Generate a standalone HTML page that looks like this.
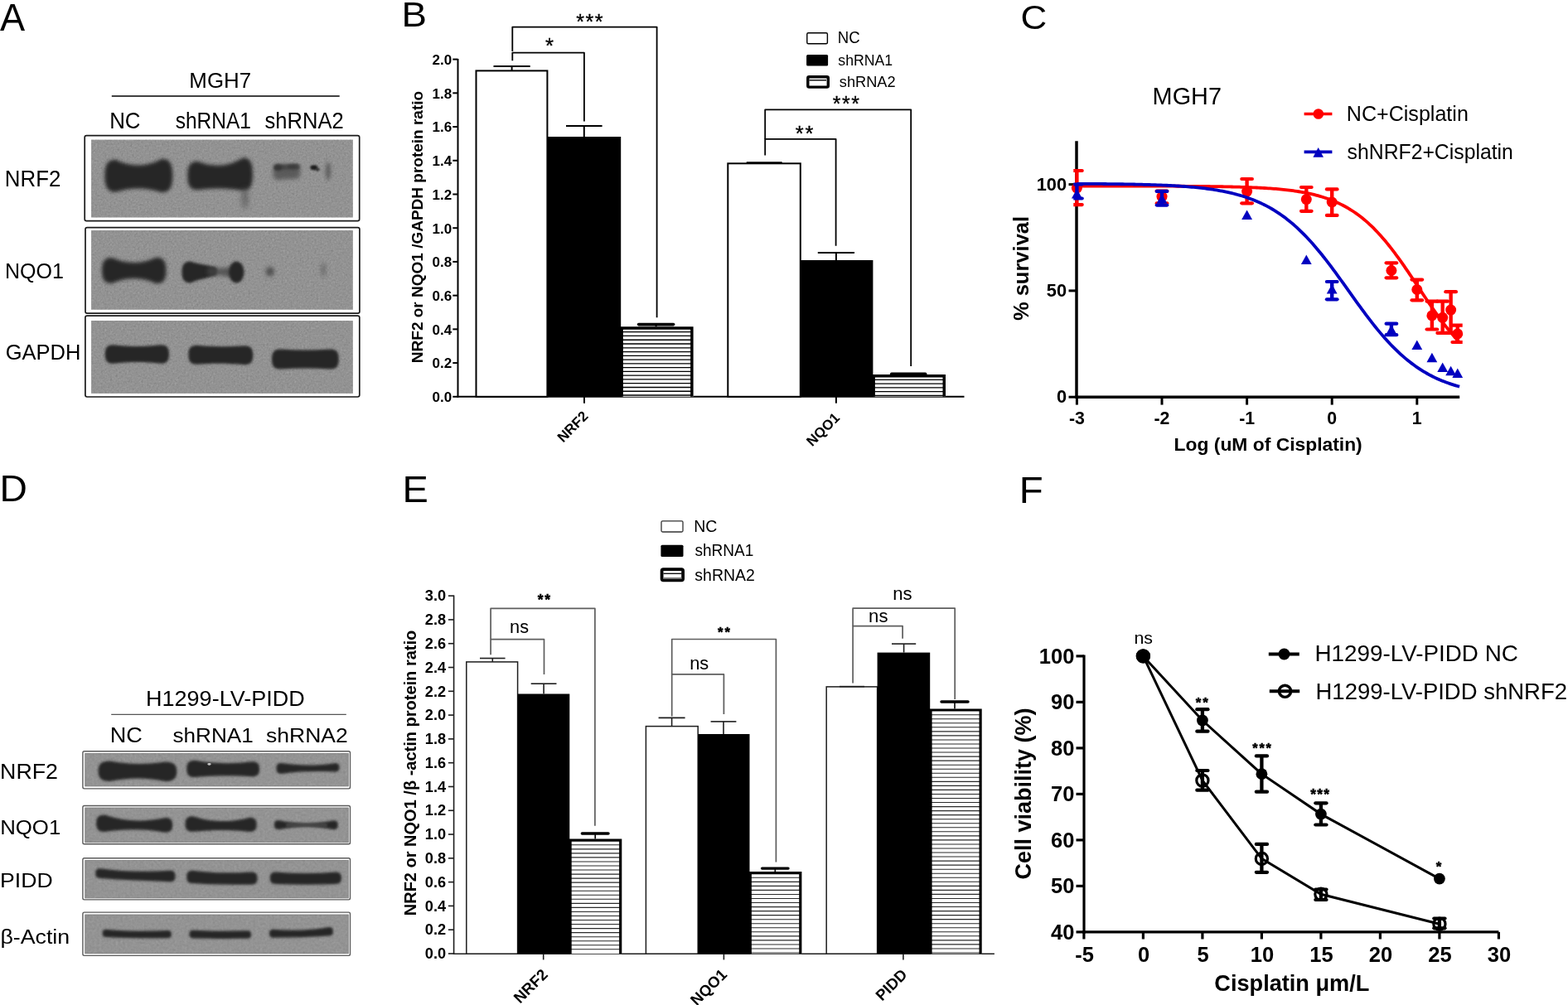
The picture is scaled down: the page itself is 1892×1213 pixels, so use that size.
<!DOCTYPE html>
<html><head><meta charset="utf-8"><title>Figure</title>
<style>html,body{margin:0;padding:0;background:#fff;}svg{display:block;}</style></head>
<body><svg width="1892" height="1213" viewBox="0 0 1892 1213" font-family="'Liberation Sans', Arial, sans-serif">
<defs><filter id="b5" x="-100%" y="-100%" width="300%" height="300%"><feGaussianBlur stdDeviation="0.5"/></filter><filter id="b10" x="-100%" y="-100%" width="300%" height="300%"><feGaussianBlur stdDeviation="1.0"/></filter><filter id="b11" x="-100%" y="-100%" width="300%" height="300%"><feGaussianBlur stdDeviation="1.1"/></filter><filter id="b12" x="-100%" y="-100%" width="300%" height="300%"><feGaussianBlur stdDeviation="1.2"/></filter><filter id="b15" x="-100%" y="-100%" width="300%" height="300%"><feGaussianBlur stdDeviation="1.5"/></filter><filter id="b16" x="-100%" y="-100%" width="300%" height="300%"><feGaussianBlur stdDeviation="1.6"/></filter><filter id="b18" x="-100%" y="-100%" width="300%" height="300%"><feGaussianBlur stdDeviation="1.8"/></filter><filter id="b20" x="-100%" y="-100%" width="300%" height="300%"><feGaussianBlur stdDeviation="2.0"/></filter><filter id="b24" x="-100%" y="-100%" width="300%" height="300%"><feGaussianBlur stdDeviation="2.4"/></filter><filter id="b26" x="-100%" y="-100%" width="300%" height="300%"><feGaussianBlur stdDeviation="2.6"/></filter><filter id="b28" x="-100%" y="-100%" width="300%" height="300%"><feGaussianBlur stdDeviation="2.8"/></filter><filter id="b30" x="-100%" y="-100%" width="300%" height="300%"><feGaussianBlur stdDeviation="3.0"/></filter><filter id="nz" x="0" y="0" width="100%" height="100%" filterUnits="objectBoundingBox" color-interpolation-filters="sRGB"><feTurbulence type="fractalNoise" baseFrequency="0.45" numOctaves="2" seed="7" result="t"/><feColorMatrix in="t" type="matrix" values="0.33 0.33 0.33 0 0  0.33 0.33 0.33 0 0  0.33 0.33 0.33 0 0  0 0 0 0 0.25"/></filter><filter id="nz2" x="0" y="0" width="100%" height="100%" filterUnits="objectBoundingBox" color-interpolation-filters="sRGB"><feTurbulence type="fractalNoise" baseFrequency="0.35" numOctaves="2" seed="11" result="t"/><feColorMatrix in="t" type="matrix" values="0.33 0.33 0.33 0 0  0.33 0.33 0.33 0 0  0.33 0.33 0.33 0 0  0 0 0 0 0.15"/></filter></defs>
<rect width="1892" height="1213" fill="#fff"/>
<text x="0.09" y="36.70" font-size="45.82" textLength="30.10" lengthAdjust="spacingAndGlyphs" fill="#000">A</text>
<text x="228.36" y="105.70" font-size="26.52" textLength="74.77" lengthAdjust="spacingAndGlyphs" fill="#000">MGH7</text>
<line x1="134.80" y1="116.00" x2="409.70" y2="116.00" stroke="#000" stroke-width="1.6" stroke-linecap="butt"/>
<text x="132.17" y="154.70" font-size="27.96" textLength="37.35" lengthAdjust="spacingAndGlyphs" fill="#000">NC</text>
<text x="211.63" y="154.70" font-size="26.90" textLength="91.27" lengthAdjust="spacingAndGlyphs" fill="#000">shRNA1</text>
<text x="319.60" y="154.70" font-size="26.90" textLength="95.01" lengthAdjust="spacingAndGlyphs" fill="#000">shRNA2</text>
<text x="5.87" y="225.00" font-size="27.24" textLength="67.46" lengthAdjust="spacingAndGlyphs" fill="#000">NRF2</text>
<text x="5.94" y="336.30" font-size="26.67" textLength="70.89" lengthAdjust="spacingAndGlyphs" fill="#000">NQO1</text>
<text x="6.73" y="434.40" font-size="26.38" textLength="90.64" lengthAdjust="spacingAndGlyphs" fill="#000">GAPDH</text>
<rect x="102.20" y="163.60" width="331.50" height="103.10" fill="#fff" stroke="#1a1a1a" stroke-width="1.7" rx="2.2"/>
<rect x="110.10" y="168.80" width="315.70" height="93.50" fill="#999999" stroke="none" stroke-width="1" rx="0"/>
<rect x="110.10" y="168.80" width="315.70" height="93.50" fill="#000" stroke="none" stroke-width="1" rx="0" filter="url(#nz)"/>
<rect x="103.00" y="274.60" width="330.90" height="103.50" fill="#fff" stroke="#1a1a1a" stroke-width="1.7" rx="2.2"/>
<rect x="110.10" y="278.00" width="315.70" height="95.70" fill="#999999" stroke="none" stroke-width="1" rx="0"/>
<rect x="110.10" y="278.00" width="315.70" height="95.70" fill="#000" stroke="none" stroke-width="1" rx="0" filter="url(#nz)"/>
<rect x="102.90" y="381.10" width="330.90" height="97.90" fill="#fff" stroke="#1a1a1a" stroke-width="1.7" rx="2.2"/>
<rect x="110.10" y="387.00" width="315.70" height="87.90" fill="#999999" stroke="none" stroke-width="1" rx="0"/>
<rect x="110.10" y="387.00" width="315.70" height="87.90" fill="#000" stroke="none" stroke-width="1" rx="0" filter="url(#nz)"/>
<path d="M139.40,192.80 C158.03,201.90 176.67,201.90 195.30,191.80 C204.66,191.80 208.30,197.46 208.30,212.00 C208.30,226.54 204.66,232.20 195.30,232.20 C176.67,226.00 158.03,226.00 139.40,231.80 C130.04,231.80 126.40,226.34 126.40,212.30 C126.40,198.26 130.04,192.80 139.40,192.80 Z" fill="#262626" opacity="1" filter="url(#b20)"/>
<path d="M238.30,194.70 C256.53,201.93 274.77,201.93 293.00,190.50 C301.64,190.50 305.00,196.04 305.00,210.30 C305.00,224.56 301.64,230.10 293.00,230.10 C274.77,226.63 256.53,226.63 238.30,229.30 C229.66,229.30 226.30,224.46 226.30,212.00 C226.30,199.54 229.66,194.70 238.30,194.70 Z" fill="#262626" opacity="1" filter="url(#b20)"/>
<ellipse cx="295.50" cy="239.00" rx="3.80" ry="13.00" fill="#444" opacity="0.6" filter="url(#b30)"/>
<path d="M335.60,199.20 C342.50,199.28 349.40,199.28 356.30,198.70 C360.62,198.70 362.30,201.08 362.30,207.20 C362.30,213.32 360.62,215.70 356.30,215.70 C349.40,216.12 342.50,216.12 335.60,217.20 C331.28,217.20 329.60,214.68 329.60,208.20 C329.60,201.72 331.28,199.20 335.60,199.20 Z" fill="#4e4e4e" opacity="0.8" filter="url(#b26)"/>
<path d="M334.10,198.20 C342.27,198.40 350.43,198.40 358.60,197.80 C361.05,197.80 362.00,198.75 362.00,201.20 C362.00,203.65 361.05,204.60 358.60,204.60 C350.43,204.60 342.27,204.60 334.10,205.40 C331.51,205.40 330.50,204.39 330.50,201.80 C330.50,199.21 331.51,198.20 334.10,198.20 Z" fill="#3c3c3c" opacity="0.75" filter="url(#b18)"/>
<ellipse cx="335.50" cy="202.20" rx="5.00" ry="3.80" fill="#2c2c2c" opacity="0.6" filter="url(#b16)"/>
<ellipse cx="353.00" cy="201.00" rx="6.00" ry="3.00" fill="#333" opacity="0.5" filter="url(#b16)"/>
<ellipse cx="378.80" cy="202.30" rx="4.40" ry="3.00" fill="#1c1c1c" opacity="1" filter="url(#b11)"/>
<ellipse cx="383.20" cy="204.60" rx="2.60" ry="2.00" fill="#2a2a2a" opacity="0.9" filter="url(#b10)"/>
<ellipse cx="396.00" cy="206.50" rx="3.20" ry="11.00" fill="#4a4a4a" opacity="0.7" filter="url(#b20)"/>
<path d="M135.00,311.00 C152.83,319.05 170.67,319.05 188.50,310.70 C197.14,310.70 200.50,315.12 200.50,326.50 C200.50,337.88 197.14,342.30 188.50,342.30 C170.67,333.95 152.83,333.95 135.00,342.00 C126.36,342.00 123.00,337.66 123.00,326.50 C123.00,315.34 126.36,311.00 135.00,311.00 Z" fill="#262626" opacity="1" filter="url(#b20)"/>
<path d="M230.12,315.50 C238.92,319.08 247.71,319.08 256.50,322.00 C260.46,322.00 262.00,323.54 262.00,327.50 C262.00,331.46 260.46,333.00 256.50,333.00 C247.71,336.92 238.92,336.92 230.12,341.50 C222.47,341.50 219.50,337.86 219.50,328.50 C219.50,319.14 222.47,315.50 230.12,315.50 Z" fill="#262626" opacity="1" filter="url(#b18)"/>
<path d="M255.50,322.00 C262.33,324.32 269.17,324.32 276.00,322.50 C280.32,322.50 282.00,324.18 282.00,328.50 C282.00,332.82 280.32,334.50 276.00,334.50 C269.17,331.68 262.33,331.68 255.50,333.00 C251.54,333.00 250.00,331.46 250.00,327.50 C250.00,323.54 251.54,322.00 255.50,322.00 Z" fill="#444" opacity="0.8" filter="url(#b28)"/>
<ellipse cx="285.30" cy="328.50" rx="9.30" ry="13.00" fill="#262626" opacity="1" filter="url(#b18)"/>
<ellipse cx="325.80" cy="327.80" rx="5.20" ry="5.80" fill="#3a3a3a" opacity="0.75" filter="url(#b26)"/>
<ellipse cx="390.20" cy="325.50" rx="3.20" ry="9.00" fill="#555" opacity="0.55" filter="url(#b24)"/>
<path d="M136.70,416.20 C155.80,418.60 174.90,418.60 194.00,416.20 C201.20,416.20 204.00,419.36 204.00,427.50 C204.00,435.64 201.20,438.80 194.00,438.80 C174.90,436.40 155.80,436.40 136.70,438.80 C129.50,438.80 126.70,435.64 126.70,427.50 C126.70,419.36 129.50,416.20 136.70,416.20 Z" fill="#262626" opacity="1" filter="url(#b18)"/>
<path d="M237.40,416.70 C256.70,418.68 276.00,418.68 295.30,417.20 C302.50,417.20 305.30,420.42 305.30,428.70 C305.30,436.98 302.50,440.20 295.30,440.20 C276.00,438.22 256.70,438.22 237.40,439.70 C230.20,439.70 227.40,436.48 227.40,428.20 C227.40,419.92 230.20,416.70 237.40,416.70 Z" fill="#262626" opacity="1" filter="url(#b18)"/>
<path d="M338.00,421.50 C358.27,422.83 378.53,422.83 398.80,421.50 C406.00,421.50 408.80,424.86 408.80,433.50 C408.80,442.14 406.00,445.50 398.80,445.50 C378.53,444.17 358.27,444.17 338.00,445.50 C330.80,445.50 328.00,442.14 328.00,433.50 C328.00,424.86 330.80,421.50 338.00,421.50 Z" fill="#262626" opacity="1" filter="url(#b18)"/>
<text x="484.64" y="31.90" font-size="42.47" textLength="30.44" lengthAdjust="spacingAndGlyphs" fill="#000">B</text>
<line x1="552.50" y1="71.00" x2="552.50" y2="479.80" stroke="#000" stroke-width="2" stroke-linecap="butt"/>
<line x1="546.30" y1="478.80" x2="552.50" y2="478.80" stroke="#000" stroke-width="2" stroke-linecap="butt"/>
<text x="545.20" y="485.10" font-size="17" font-weight="bold" text-anchor="end" fill="#000">0.0</text>
<line x1="546.30" y1="438.08" x2="552.50" y2="438.08" stroke="#000" stroke-width="2" stroke-linecap="butt"/>
<text x="545.20" y="444.38" font-size="17" font-weight="bold" text-anchor="end" fill="#000">0.2</text>
<line x1="546.30" y1="397.36" x2="552.50" y2="397.36" stroke="#000" stroke-width="2" stroke-linecap="butt"/>
<text x="545.20" y="403.66" font-size="17" font-weight="bold" text-anchor="end" fill="#000">0.4</text>
<line x1="546.30" y1="356.64" x2="552.50" y2="356.64" stroke="#000" stroke-width="2" stroke-linecap="butt"/>
<text x="545.20" y="362.94" font-size="17" font-weight="bold" text-anchor="end" fill="#000">0.6</text>
<line x1="546.30" y1="315.92" x2="552.50" y2="315.92" stroke="#000" stroke-width="2" stroke-linecap="butt"/>
<text x="545.20" y="322.22" font-size="17" font-weight="bold" text-anchor="end" fill="#000">0.8</text>
<line x1="546.30" y1="275.20" x2="552.50" y2="275.20" stroke="#000" stroke-width="2" stroke-linecap="butt"/>
<text x="545.20" y="281.50" font-size="17" font-weight="bold" text-anchor="end" fill="#000">1.0</text>
<line x1="546.30" y1="234.48" x2="552.50" y2="234.48" stroke="#000" stroke-width="2" stroke-linecap="butt"/>
<text x="545.20" y="240.78" font-size="17" font-weight="bold" text-anchor="end" fill="#000">1.2</text>
<line x1="546.30" y1="193.76" x2="552.50" y2="193.76" stroke="#000" stroke-width="2" stroke-linecap="butt"/>
<text x="545.20" y="200.06" font-size="17" font-weight="bold" text-anchor="end" fill="#000">1.4</text>
<line x1="546.30" y1="153.04" x2="552.50" y2="153.04" stroke="#000" stroke-width="2" stroke-linecap="butt"/>
<text x="545.20" y="159.34" font-size="17" font-weight="bold" text-anchor="end" fill="#000">1.6</text>
<line x1="546.30" y1="112.32" x2="552.50" y2="112.32" stroke="#000" stroke-width="2" stroke-linecap="butt"/>
<text x="545.20" y="118.62" font-size="17" font-weight="bold" text-anchor="end" fill="#000">1.8</text>
<line x1="546.30" y1="71.60" x2="552.50" y2="71.60" stroke="#000" stroke-width="2" stroke-linecap="butt"/>
<text x="545.20" y="77.90" font-size="17" font-weight="bold" text-anchor="end" fill="#000">2.0</text>
<line x1="551.50" y1="478.80" x2="1163.50" y2="478.80" stroke="#000" stroke-width="2" stroke-linecap="butt"/>
<line x1="705.00" y1="478.80" x2="705.00" y2="486.70" stroke="#000" stroke-width="2" stroke-linecap="butt"/>
<line x1="1008.90" y1="478.80" x2="1008.90" y2="486.70" stroke="#000" stroke-width="2" stroke-linecap="butt"/>
<text x="510.00" y="274.00" font-size="19" font-weight="bold" text-anchor="middle" transform="rotate(-90 510.00 274.00)" fill="#000">NRF2 or NQO1 /GAPDH protein ratio</text>
<text x="710.80" y="503.40" font-size="17" font-weight="bold" text-anchor="end" transform="rotate(-45 710.80 503.40)" fill="#000">NRF2</text>
<text x="1014.20" y="505.40" font-size="17" font-weight="bold" text-anchor="end" transform="rotate(-45 1014.20 505.40)" fill="#000">NQO1</text>
<rect x="574.50" y="85.40" width="85.90" height="393.40" fill="#fff" stroke="#000" stroke-width="2" rx="0"/>
<rect x="660.40" y="165.00" width="88.80" height="313.80" fill="#000" stroke="none" stroke-width="1" rx="0"/>
<rect x="750.15" y="394.30" width="86.45" height="84.50" fill="#fff" stroke="none" stroke-width="1" rx="0"/>
<path d="M750.40,400.70H834.60M750.40,405.47H834.60M750.40,410.24H834.60M750.40,415.01H834.60M750.40,419.78H834.60M750.40,424.55H834.60M750.40,429.32H834.60M750.40,434.09H834.60M750.40,438.86H834.60M750.40,443.63H834.60M750.40,448.40H834.60M750.40,453.17H834.60M750.40,457.94H834.60M750.40,462.71H834.60M750.40,467.48H834.60M750.40,472.25H834.60M750.40,477.02H834.60" stroke="#000" stroke-width="1.3" fill="none"/>
<path d="M750.15,478.8 V396.05 H834.85 V478.8" stroke="#000" stroke-width="3.5" fill="none" stroke-linejoin="miter"/>
<rect x="878.30" y="197.30" width="87.50" height="281.50" fill="#fff" stroke="#000" stroke-width="2" rx="0"/>
<rect x="965.80" y="314.00" width="87.60" height="164.80" fill="#000" stroke="none" stroke-width="1" rx="0"/>
<rect x="1054.15" y="452.00" width="86.85" height="26.80" fill="#fff" stroke="none" stroke-width="1" rx="0"/>
<path d="M1054.40,458.40H1139.00M1054.40,463.17H1139.00M1054.40,467.94H1139.00M1054.40,472.71H1139.00M1054.40,477.48H1139.00" stroke="#000" stroke-width="1.3" fill="none"/>
<path d="M1054.15,478.8 V453.75 H1139.25 V478.8" stroke="#000" stroke-width="3.5" fill="none" stroke-linejoin="miter"/>
<line x1="617.60" y1="80.00" x2="617.60" y2="85.40" stroke="#000" stroke-width="2" stroke-linecap="butt"/>
<line x1="595.50" y1="80.00" x2="639.70" y2="80.00" stroke="#000" stroke-width="2" stroke-linecap="butt"/>
<line x1="704.80" y1="152.00" x2="704.80" y2="165.00" stroke="#000" stroke-width="2" stroke-linecap="butt"/>
<line x1="683.00" y1="152.00" x2="726.60" y2="152.00" stroke="#000" stroke-width="2" stroke-linecap="butt"/>
<line x1="791.60" y1="391.60" x2="791.60" y2="394.30" stroke="#000" stroke-width="2" stroke-linecap="butt"/>
<line x1="770.60" y1="391.60" x2="812.60" y2="391.60" stroke="#000" stroke-width="3.6" stroke-linecap="round"/>
<line x1="922.20" y1="196.30" x2="922.20" y2="197.30" stroke="#000" stroke-width="2" stroke-linecap="butt"/>
<line x1="900.70" y1="196.30" x2="943.70" y2="196.30" stroke="#000" stroke-width="2" stroke-linecap="butt"/>
<line x1="1008.90" y1="305.00" x2="1008.90" y2="314.00" stroke="#000" stroke-width="2" stroke-linecap="butt"/>
<line x1="986.80" y1="305.00" x2="1031.00" y2="305.00" stroke="#000" stroke-width="2" stroke-linecap="butt"/>
<line x1="1096.20" y1="451.30" x2="1096.20" y2="452.50" stroke="#000" stroke-width="2" stroke-linecap="butt"/>
<line x1="1075.70" y1="451.30" x2="1116.70" y2="451.30" stroke="#000" stroke-width="3.4" stroke-linecap="round"/>
<path d="M618.3,73.2 V63.6 H704.9 V146.6" stroke="#000" stroke-width="1.8" fill="none" stroke-linejoin="round"/>
<path d="M618.3,62 V32.6 H792.6 V383.2" stroke="#000" stroke-width="1.8" fill="none" stroke-linejoin="round"/>
<path d="M923.2,187.6 V167.9 H1008.6 V296.7" stroke="#000" stroke-width="1.8" fill="none" stroke-linejoin="round"/>
<path d="M923.2,167.9 V132.3 H1099.2 V442" stroke="#000" stroke-width="1.8" fill="none" stroke-linejoin="round"/>
<text x="657.95" y="63.98" font-size="25.71" letter-spacing="0.00" stroke="#000" stroke-width="0.35">*</text>
<text x="695.36" y="34.59" font-size="25.14" letter-spacing="1.40" stroke="#000" stroke-width="0.35">***</text>
<text x="959.75" y="170.48" font-size="25.43" letter-spacing="1.78" stroke="#000" stroke-width="0.35">**</text>
<text x="1004.77" y="134.09" font-size="24.86" letter-spacing="1.51" stroke="#000" stroke-width="0.35">***</text>
<rect x="973.80" y="39.80" width="24.60" height="13.00" fill="#fff" stroke="#000" stroke-width="1.4" rx="1.5"/>
<rect x="973.10" y="65.90" width="26.00" height="13.60" fill="#000" stroke="none" stroke-width="1" rx="1.5"/>
<rect x="974.80" y="92.70" width="24.50" height="12.40" fill="#fff" stroke="#000" stroke-width="3.4" rx="1.5"/>
<line x1="976.50" y1="96.80" x2="997.00" y2="96.80" stroke="#000" stroke-width="1.4" stroke-linecap="butt"/>
<text x="1010.87" y="52.20" font-size="19.93" textLength="26.87" lengthAdjust="spacingAndGlyphs" fill="#000">NC</text>
<text x="1011.31" y="78.90" font-size="19.03" textLength="65.85" lengthAdjust="spacingAndGlyphs" fill="#000">shRNA1</text>
<text x="1012.80" y="104.80" font-size="18.62" textLength="67.83" lengthAdjust="spacingAndGlyphs" fill="#000">shRNA2</text>
<text x="1231.40" y="34.70" font-size="40.29" textLength="31.74" lengthAdjust="spacingAndGlyphs" fill="#000">C</text>
<text x="1390.62" y="126.20" font-size="28.96" textLength="83.37" lengthAdjust="spacingAndGlyphs" fill="#000">MGH7</text>
<line x1="1299.00" y1="170.30" x2="1299.00" y2="481.00" stroke="#000" stroke-width="3.5" stroke-linecap="butt"/>
<line x1="1297.30" y1="479.20" x2="1761.20" y2="479.20" stroke="#000" stroke-width="3.5" stroke-linecap="butt"/>
<line x1="1289.50" y1="479.20" x2="1299.00" y2="479.20" stroke="#000" stroke-width="3" stroke-linecap="butt"/>
<text x="1287.10" y="486.20" font-size="21.8" font-weight="bold" text-anchor="end" fill="#000">0</text>
<line x1="1289.50" y1="350.90" x2="1299.00" y2="350.90" stroke="#000" stroke-width="3" stroke-linecap="butt"/>
<text x="1287.10" y="357.90" font-size="21.8" font-weight="bold" text-anchor="end" fill="#000">50</text>
<line x1="1289.50" y1="222.60" x2="1299.00" y2="222.60" stroke="#000" stroke-width="3" stroke-linecap="butt"/>
<text x="1287.10" y="229.60" font-size="21.8" font-weight="bold" text-anchor="end" fill="#000">100</text>
<line x1="1299.40" y1="479.20" x2="1299.40" y2="488.60" stroke="#000" stroke-width="3" stroke-linecap="butt"/>
<text x="1299.40" y="512.20" font-size="21.3" font-weight="bold" text-anchor="middle" fill="#000">-3</text>
<line x1="1402.00" y1="479.20" x2="1402.00" y2="488.60" stroke="#000" stroke-width="3" stroke-linecap="butt"/>
<text x="1402.00" y="512.20" font-size="21.3" font-weight="bold" text-anchor="middle" fill="#000">-2</text>
<line x1="1504.60" y1="479.20" x2="1504.60" y2="488.60" stroke="#000" stroke-width="3" stroke-linecap="butt"/>
<text x="1504.60" y="512.20" font-size="21.3" font-weight="bold" text-anchor="middle" fill="#000">-1</text>
<line x1="1607.20" y1="479.20" x2="1607.20" y2="488.60" stroke="#000" stroke-width="3" stroke-linecap="butt"/>
<text x="1607.20" y="512.20" font-size="21.3" font-weight="bold" text-anchor="middle" fill="#000">0</text>
<line x1="1709.80" y1="479.20" x2="1709.80" y2="488.60" stroke="#000" stroke-width="3" stroke-linecap="butt"/>
<text x="1709.80" y="512.20" font-size="21.3" font-weight="bold" text-anchor="middle" fill="#000">1</text>
<text x="1241.00" y="324.00" font-size="25.5" font-weight="bold" text-anchor="middle" transform="rotate(-90 1241.00 324.00)" fill="#000">% survival</text>
<text x="1416.56" y="543.90" font-size="22.21" font-weight="bold" textLength="227.19" lengthAdjust="spacingAndGlyphs" fill="#000">Log (uM of Cisplatin)</text>
<clipPath id="cpC"><rect x="1295.3" y="150" width="469.4" height="340"/></clipPath>
<g clip-path="url(#cpC)">
<polyline points="1299.40,224.56 1301.71,224.56 1304.02,224.56 1306.33,224.56 1308.63,224.56 1310.94,224.56 1313.25,224.56 1315.56,224.56 1317.87,224.56 1320.18,224.57 1322.49,224.57 1324.79,224.57 1327.10,224.57 1329.41,224.57 1331.72,224.57 1334.03,224.57 1336.34,224.57 1338.64,224.57 1340.95,224.58 1343.26,224.58 1345.57,224.58 1347.88,224.58 1350.19,224.58 1352.50,224.58 1354.80,224.59 1357.11,224.59 1359.42,224.59 1361.73,224.59 1364.04,224.60 1366.35,224.60 1368.65,224.60 1370.96,224.60 1373.27,224.61 1375.58,224.61 1377.89,224.61 1380.20,224.62 1382.51,224.62 1384.81,224.63 1387.12,224.63 1389.43,224.63 1391.74,224.64 1394.05,224.65 1396.36,224.65 1398.67,224.66 1400.97,224.66 1403.28,224.67 1405.59,224.68 1407.90,224.68 1410.21,224.69 1412.52,224.70 1414.83,224.71 1417.13,224.72 1419.44,224.73 1421.75,224.74 1424.06,224.75 1426.37,224.76 1428.68,224.77 1430.98,224.79 1433.29,224.80 1435.60,224.82 1437.91,224.83 1440.22,224.85 1442.53,224.86 1444.84,224.88 1447.14,224.90 1449.45,224.92 1451.76,224.95 1454.07,224.97 1456.38,224.99 1458.69,225.02 1461.00,225.05 1463.30,225.08 1465.61,225.11 1467.92,225.14 1470.23,225.17 1472.54,225.21 1474.85,225.25 1477.15,225.29 1479.46,225.33 1481.77,225.38 1484.08,225.43 1486.39,225.48 1488.70,225.53 1491.01,225.59 1493.31,225.65 1495.62,225.72 1497.93,225.79 1500.24,225.86 1502.55,225.93 1504.86,226.02 1507.16,226.10 1509.47,226.19 1511.78,226.29 1514.09,226.39 1516.40,226.50 1518.71,226.61 1521.02,226.73 1523.32,226.86 1525.63,226.99 1527.94,227.13 1530.25,227.28 1532.56,227.44 1534.87,227.61 1537.18,227.79 1539.48,227.97 1541.79,228.17 1544.10,228.38 1546.41,228.60 1548.72,228.84 1551.03,229.09 1553.34,229.35 1555.64,229.62 1557.95,229.91 1560.26,230.22 1562.57,230.55 1564.88,230.89 1567.19,231.25 1569.49,231.64 1571.80,232.04 1574.11,232.47 1576.42,232.92 1578.73,233.39 1581.04,233.89 1583.35,234.42 1585.65,234.97 1587.96,235.56 1590.27,236.17 1592.58,236.82 1594.89,237.51 1597.20,238.22 1599.51,238.98 1601.81,239.78 1604.12,240.61 1606.43,241.49 1608.74,242.41 1611.05,243.38 1613.36,244.40 1615.66,245.47 1617.97,246.59 1620.28,247.76 1622.59,248.99 1624.90,250.27 1627.21,251.61 1629.52,253.02 1631.82,254.49 1634.13,256.02 1636.44,257.62 1638.75,259.29 1641.06,261.02 1643.37,262.83 1645.67,264.71 1647.98,266.66 1650.29,268.69 1652.60,270.79 1654.91,272.97 1657.22,275.22 1659.53,277.55 1661.83,279.96 1664.14,282.44 1666.45,285.00 1668.76,287.64 1671.07,290.34 1673.38,293.12 1675.69,295.97 1677.99,298.89 1680.30,301.87 1682.61,304.92 1684.92,308.02 1687.23,311.18 1689.54,314.40 1691.85,317.66 1694.15,320.96 1696.46,324.31 1698.77,327.69 1701.08,331.10 1703.39,334.53 1705.70,337.99 1708.00,341.45 1710.31,344.93 1712.62,348.40 1714.93,351.88 1717.24,355.34 1719.55,358.79 1721.86,362.22 1724.16,365.62 1726.47,368.99 1728.78,372.33 1731.09,375.63 1733.40,378.88 1735.71,382.08 1738.02,385.23 1740.32,388.32 1742.63,391.35 1744.94,394.32 1747.25,397.22 1749.56,400.05 1751.87,402.81 1754.17,405.50 1756.48,408.12 1758.79,410.66 1761.10,413.12" fill="none" stroke="#ff0000" stroke-width="3.8" stroke-linejoin="round"/>
<line x1="1299.40" y1="206.00" x2="1299.40" y2="247.10" stroke="#ff0000" stroke-width="4.4" stroke-linecap="butt"/>
<line x1="1293.10" y1="206.00" x2="1305.70" y2="206.00" stroke="#ff0000" stroke-width="4.2" stroke-linecap="round"/>
<line x1="1293.10" y1="247.10" x2="1305.70" y2="247.10" stroke="#ff0000" stroke-width="4.2" stroke-linecap="round"/>
<line x1="1402.00" y1="230.50" x2="1402.00" y2="245.30" stroke="#ff0000" stroke-width="4.4" stroke-linecap="butt"/>
<line x1="1395.70" y1="230.50" x2="1408.30" y2="230.50" stroke="#ff0000" stroke-width="4.2" stroke-linecap="round"/>
<line x1="1395.70" y1="245.30" x2="1408.30" y2="245.30" stroke="#ff0000" stroke-width="4.2" stroke-linecap="round"/>
<line x1="1504.60" y1="216.00" x2="1504.60" y2="245.30" stroke="#ff0000" stroke-width="4.4" stroke-linecap="butt"/>
<line x1="1498.30" y1="216.00" x2="1510.90" y2="216.00" stroke="#ff0000" stroke-width="4.2" stroke-linecap="round"/>
<line x1="1498.30" y1="245.30" x2="1510.90" y2="245.30" stroke="#ff0000" stroke-width="4.2" stroke-linecap="round"/>
<line x1="1576.31" y1="226.00" x2="1576.31" y2="254.80" stroke="#ff0000" stroke-width="4.4" stroke-linecap="butt"/>
<line x1="1570.01" y1="226.00" x2="1582.61" y2="226.00" stroke="#ff0000" stroke-width="4.2" stroke-linecap="round"/>
<line x1="1570.01" y1="254.80" x2="1582.61" y2="254.80" stroke="#ff0000" stroke-width="4.2" stroke-linecap="round"/>
<line x1="1607.20" y1="228.40" x2="1607.20" y2="259.90" stroke="#ff0000" stroke-width="4.4" stroke-linecap="butt"/>
<line x1="1600.90" y1="228.40" x2="1613.50" y2="228.40" stroke="#ff0000" stroke-width="4.2" stroke-linecap="round"/>
<line x1="1600.90" y1="259.90" x2="1613.50" y2="259.90" stroke="#ff0000" stroke-width="4.2" stroke-linecap="round"/>
<line x1="1678.91" y1="317.30" x2="1678.91" y2="335.30" stroke="#ff0000" stroke-width="4.4" stroke-linecap="butt"/>
<line x1="1672.61" y1="317.30" x2="1685.21" y2="317.30" stroke="#ff0000" stroke-width="4.2" stroke-linecap="round"/>
<line x1="1672.61" y1="335.30" x2="1685.21" y2="335.30" stroke="#ff0000" stroke-width="4.2" stroke-linecap="round"/>
<line x1="1709.80" y1="337.60" x2="1709.80" y2="362.30" stroke="#ff0000" stroke-width="4.4" stroke-linecap="butt"/>
<line x1="1703.50" y1="337.60" x2="1716.10" y2="337.60" stroke="#ff0000" stroke-width="4.2" stroke-linecap="round"/>
<line x1="1703.50" y1="362.30" x2="1716.10" y2="362.30" stroke="#ff0000" stroke-width="4.2" stroke-linecap="round"/>
<line x1="1727.87" y1="363.70" x2="1727.87" y2="397.50" stroke="#ff0000" stroke-width="4.4" stroke-linecap="butt"/>
<line x1="1721.57" y1="363.70" x2="1734.17" y2="363.70" stroke="#ff0000" stroke-width="4.2" stroke-linecap="round"/>
<line x1="1721.57" y1="397.50" x2="1734.17" y2="397.50" stroke="#ff0000" stroke-width="4.2" stroke-linecap="round"/>
<line x1="1740.69" y1="363.70" x2="1740.69" y2="401.90" stroke="#ff0000" stroke-width="4.4" stroke-linecap="butt"/>
<line x1="1734.39" y1="363.70" x2="1746.99" y2="363.70" stroke="#ff0000" stroke-width="4.2" stroke-linecap="round"/>
<line x1="1734.39" y1="401.90" x2="1746.99" y2="401.90" stroke="#ff0000" stroke-width="4.2" stroke-linecap="round"/>
<line x1="1750.63" y1="352.20" x2="1750.63" y2="401.90" stroke="#ff0000" stroke-width="4.4" stroke-linecap="butt"/>
<line x1="1744.33" y1="352.20" x2="1756.93" y2="352.20" stroke="#ff0000" stroke-width="4.2" stroke-linecap="round"/>
<line x1="1744.33" y1="401.90" x2="1756.93" y2="401.90" stroke="#ff0000" stroke-width="4.2" stroke-linecap="round"/>
<line x1="1758.75" y1="392.70" x2="1758.75" y2="413.00" stroke="#ff0000" stroke-width="4.4" stroke-linecap="butt"/>
<line x1="1752.45" y1="392.70" x2="1765.05" y2="392.70" stroke="#ff0000" stroke-width="4.2" stroke-linecap="round"/>
<line x1="1752.45" y1="413.00" x2="1765.05" y2="413.00" stroke="#ff0000" stroke-width="4.2" stroke-linecap="round"/>
</g>
<circle cx="1299.40" cy="227.00" r="6.5" fill="#ff0000"/>
<circle cx="1402.00" cy="237.20" r="6.5" fill="#ff0000"/>
<circle cx="1504.60" cy="231.10" r="6.5" fill="#ff0000"/>
<circle cx="1576.31" cy="240.60" r="6.5" fill="#ff0000"/>
<circle cx="1607.20" cy="244.00" r="6.5" fill="#ff0000"/>
<circle cx="1678.91" cy="326.50" r="6.5" fill="#ff0000"/>
<circle cx="1709.80" cy="349.50" r="6.5" fill="#ff0000"/>
<circle cx="1727.87" cy="380.90" r="6.5" fill="#ff0000"/>
<circle cx="1740.69" cy="383.30" r="6.5" fill="#ff0000"/>
<circle cx="1750.63" cy="374.10" r="6.5" fill="#ff0000"/>
<circle cx="1758.75" cy="402.90" r="6.5" fill="#ff0000"/>
<g clip-path="url(#cpC)">
<polyline points="1299.40,221.78 1301.71,221.79 1304.02,221.80 1306.33,221.82 1308.63,221.83 1310.94,221.84 1313.25,221.86 1315.56,221.87 1317.87,221.89 1320.18,221.90 1322.49,221.92 1324.79,221.94 1327.10,221.95 1329.41,221.97 1331.72,221.99 1334.03,222.02 1336.34,222.04 1338.64,222.06 1340.95,222.09 1343.26,222.11 1345.57,222.14 1347.88,222.17 1350.19,222.20 1352.50,222.23 1354.80,222.27 1357.11,222.30 1359.42,222.34 1361.73,222.38 1364.04,222.42 1366.35,222.47 1368.65,222.51 1370.96,222.56 1373.27,222.61 1375.58,222.66 1377.89,222.72 1380.20,222.78 1382.51,222.84 1384.81,222.90 1387.12,222.97 1389.43,223.04 1391.74,223.12 1394.05,223.20 1396.36,223.28 1398.67,223.37 1400.97,223.46 1403.28,223.56 1405.59,223.66 1407.90,223.76 1410.21,223.87 1412.52,223.99 1414.83,224.11 1417.13,224.24 1419.44,224.38 1421.75,224.52 1424.06,224.67 1426.37,224.83 1428.68,225.00 1430.98,225.17 1433.29,225.35 1435.60,225.54 1437.91,225.74 1440.22,225.95 1442.53,226.18 1444.84,226.41 1447.14,226.65 1449.45,226.91 1451.76,227.18 1454.07,227.46 1456.38,227.75 1458.69,228.06 1461.00,228.39 1463.30,228.73 1465.61,229.08 1467.92,229.46 1470.23,229.85 1472.54,230.26 1474.85,230.69 1477.15,231.15 1479.46,231.62 1481.77,232.11 1484.08,232.63 1486.39,233.18 1488.70,233.75 1491.01,234.34 1493.31,234.96 1495.62,235.61 1497.93,236.29 1500.24,237.01 1502.55,237.75 1504.86,238.53 1507.16,239.34 1509.47,240.19 1511.78,241.07 1514.09,242.00 1516.40,242.96 1518.71,243.96 1521.02,245.01 1523.32,246.10 1525.63,247.24 1527.94,248.42 1530.25,249.65 1532.56,250.93 1534.87,252.26 1537.18,253.65 1539.48,255.08 1541.79,256.57 1544.10,258.12 1546.41,259.72 1548.72,261.38 1551.03,263.10 1553.34,264.88 1555.64,266.71 1557.95,268.61 1560.26,270.57 1562.57,272.60 1564.88,274.68 1567.19,276.83 1569.49,279.04 1571.80,281.31 1574.11,283.64 1576.42,286.04 1578.73,288.50 1581.04,291.01 1583.35,293.59 1585.65,296.22 1587.96,298.92 1590.27,301.66 1592.58,304.46 1594.89,307.31 1597.20,310.20 1599.51,313.15 1601.81,316.13 1604.12,319.16 1606.43,322.23 1608.74,325.32 1611.05,328.45 1613.36,331.61 1615.66,334.79 1617.97,337.99 1620.28,341.21 1622.59,344.43 1624.90,347.67 1627.21,350.91 1629.52,354.15 1631.82,357.39 1634.13,360.61 1636.44,363.83 1638.75,367.03 1641.06,370.21 1643.37,373.36 1645.67,376.49 1647.98,379.59 1650.29,382.65 1652.60,385.67 1654.91,388.66 1657.22,391.60 1659.53,394.49 1661.83,397.34 1664.14,400.13 1666.45,402.87 1668.76,405.56 1671.07,408.19 1673.38,410.76 1675.69,413.28 1677.99,415.73 1680.30,418.12 1682.61,420.45 1684.92,422.72 1687.23,424.93 1689.54,427.07 1691.85,429.15 1694.15,431.17 1696.46,433.13 1698.77,435.02 1701.08,436.86 1703.39,438.63 1705.70,440.35 1708.00,442.00 1710.31,443.60 1712.62,445.14 1714.93,446.63 1717.24,448.06 1719.55,449.44 1721.86,450.77 1724.16,452.05 1726.47,453.27 1728.78,454.45 1731.09,455.59 1733.40,456.67 1735.71,457.72 1738.02,458.72 1740.32,459.68 1742.63,460.60 1744.94,461.49 1747.25,462.33 1749.56,463.14 1751.87,463.92 1754.17,464.66 1756.48,465.37 1758.79,466.05 1761.10,466.70" fill="none" stroke="#0000c0" stroke-width="3.8" stroke-linejoin="round"/>
<line x1="1299.40" y1="222.50" x2="1299.40" y2="239.50" stroke="#0000c0" stroke-width="4.4" stroke-linecap="butt"/>
<line x1="1293.10" y1="222.50" x2="1305.70" y2="222.50" stroke="#0000c0" stroke-width="4.2" stroke-linecap="round"/>
<line x1="1293.10" y1="239.50" x2="1305.70" y2="239.50" stroke="#0000c0" stroke-width="4.2" stroke-linecap="round"/>
<line x1="1402.00" y1="230.90" x2="1402.00" y2="247.60" stroke="#0000c0" stroke-width="4.4" stroke-linecap="butt"/>
<line x1="1395.70" y1="230.90" x2="1408.30" y2="230.90" stroke="#0000c0" stroke-width="4.2" stroke-linecap="round"/>
<line x1="1395.70" y1="247.60" x2="1408.30" y2="247.60" stroke="#0000c0" stroke-width="4.2" stroke-linecap="round"/>
<line x1="1607.20" y1="340.00" x2="1607.20" y2="361.30" stroke="#0000c0" stroke-width="4.4" stroke-linecap="butt"/>
<line x1="1600.90" y1="340.00" x2="1613.50" y2="340.00" stroke="#0000c0" stroke-width="4.2" stroke-linecap="round"/>
<line x1="1600.90" y1="361.30" x2="1613.50" y2="361.30" stroke="#0000c0" stroke-width="4.2" stroke-linecap="round"/>
<line x1="1678.91" y1="390.70" x2="1678.91" y2="404.20" stroke="#0000c0" stroke-width="4.4" stroke-linecap="butt"/>
<line x1="1672.61" y1="390.70" x2="1685.21" y2="390.70" stroke="#0000c0" stroke-width="4.2" stroke-linecap="round"/>
<line x1="1672.61" y1="404.20" x2="1685.21" y2="404.20" stroke="#0000c0" stroke-width="4.2" stroke-linecap="round"/>
</g>
<path d="M1299.40,228.00 L1305.80,239.50 L1293.00,239.50 Z" fill="#0000c0"/>
<path d="M1402.00,234.10 L1408.40,245.60 L1395.60,245.60 Z" fill="#0000c0"/>
<path d="M1504.60,253.40 L1511.00,264.90 L1498.20,264.90 Z" fill="#0000c0"/>
<path d="M1576.31,307.50 L1582.71,319.00 L1569.91,319.00 Z" fill="#0000c0"/>
<path d="M1607.20,343.00 L1613.60,354.50 L1600.80,354.50 Z" fill="#0000c0"/>
<path d="M1678.91,392.00 L1685.31,403.50 L1672.51,403.50 Z" fill="#0000c0"/>
<path d="M1709.80,410.60 L1716.20,422.10 L1703.40,422.10 Z" fill="#0000c0"/>
<path d="M1727.87,425.80 L1734.27,437.30 L1721.47,437.30 Z" fill="#0000c0"/>
<path d="M1740.69,437.60 L1747.09,449.10 L1734.29,449.10 Z" fill="#0000c0"/>
<path d="M1750.63,441.70 L1757.03,453.20 L1744.23,453.20 Z" fill="#0000c0"/>
<path d="M1758.75,444.40 L1765.15,455.90 L1752.35,455.90 Z" fill="#0000c0"/>
<line x1="1573.60" y1="137.50" x2="1607.40" y2="137.50" stroke="#ff0000" stroke-width="3.7" stroke-linecap="butt"/>
<circle cx="1590.8" cy="137.5" r="6.3" fill="#ff0000"/>
<text x="1624.83" y="146.10" font-size="25.52" textLength="147.02" lengthAdjust="spacingAndGlyphs" fill="#000">NC+Cisplatin</text>
<line x1="1573.60" y1="183.40" x2="1607.40" y2="183.40" stroke="#0000c0" stroke-width="3.7" stroke-linecap="butt"/>
<path d="M1590.7,177.9 L1597,189.7 L1584.4,189.7 Z" fill="#0000c0"/>
<text x="1625.62" y="192.00" font-size="25.52" textLength="200.23" lengthAdjust="spacingAndGlyphs" fill="#000">shNRF2+Cisplatin</text>
<text x="-0.42" y="604.80" font-size="44.80" textLength="33.40" lengthAdjust="spacingAndGlyphs" fill="#000">D</text>
<text x="176.07" y="852.30" font-size="25.66" textLength="191.64" lengthAdjust="spacingAndGlyphs" fill="#000">H1299-LV-PIDD</text>
<line x1="134.20" y1="862.40" x2="417.80" y2="862.40" stroke="#555" stroke-width="1.3" stroke-linecap="butt"/>
<text x="132.77" y="895.60" font-size="25.66" textLength="39.10" lengthAdjust="spacingAndGlyphs" fill="#000">NC</text>
<text x="208.48" y="895.60" font-size="24.69" textLength="97.19" lengthAdjust="spacingAndGlyphs" fill="#000">shRNA1</text>
<text x="320.97" y="895.60" font-size="24.69" textLength="98.79" lengthAdjust="spacingAndGlyphs" fill="#000">shRNA2</text>
<text x="0.09" y="940.00" font-size="24.95" textLength="69.88" lengthAdjust="spacingAndGlyphs" fill="#000">NRF2</text>
<text x="0.17" y="1006.90" font-size="24.52" textLength="73.09" lengthAdjust="spacingAndGlyphs" fill="#000">NQO1</text>
<text x="0.10" y="1071.30" font-size="24.73" textLength="63.64" lengthAdjust="spacingAndGlyphs" fill="#000">PIDD</text>
<text x="0.43" y="1138.60" font-size="24.40" textLength="83.75" lengthAdjust="spacingAndGlyphs" fill="#000">β-Actin</text>
<rect x="99.90" y="906.70" width="322.60" height="45.20" fill="#fff" stroke="#5a5a5a" stroke-width="1.4" rx="1.8"/>
<rect x="102.80" y="909.40" width="317.50" height="39.50" fill="#979797" stroke="#777" stroke-width="0.8" rx="0"/>
<rect x="103.20" y="909.80" width="316.70" height="38.70" fill="#000" stroke="none" stroke-width="1" rx="0" filter="url(#nz2)"/>
<rect x="99.90" y="972.50" width="322.60" height="46.20" fill="#fff" stroke="#5a5a5a" stroke-width="1.4" rx="1.8"/>
<rect x="102.80" y="975.00" width="317.50" height="41.80" fill="#979797" stroke="#777" stroke-width="0.8" rx="0"/>
<rect x="103.20" y="975.40" width="316.70" height="41.00" fill="#000" stroke="none" stroke-width="1" rx="0" filter="url(#nz2)"/>
<rect x="99.90" y="1035.80" width="322.60" height="50.10" fill="#fff" stroke="#5a5a5a" stroke-width="1.4" rx="1.8"/>
<rect x="102.80" y="1038.50" width="317.50" height="45.40" fill="#979797" stroke="#777" stroke-width="0.8" rx="0"/>
<rect x="103.20" y="1038.90" width="316.70" height="44.60" fill="#000" stroke="none" stroke-width="1" rx="0" filter="url(#nz2)"/>
<rect x="99.90" y="1101.10" width="322.60" height="52.30" fill="#fff" stroke="#5a5a5a" stroke-width="1.4" rx="1.8"/>
<rect x="102.80" y="1104.00" width="317.50" height="46.80" fill="#979797" stroke="#777" stroke-width="0.8" rx="0"/>
<rect x="103.20" y="1104.40" width="316.70" height="46.00" fill="#000" stroke="none" stroke-width="1" rx="0" filter="url(#nz2)"/>
<path d="M132.60,918.50 C154.83,922.88 177.07,922.88 199.30,919.40 C209.38,919.40 213.30,922.70 213.30,931.20 C213.30,939.70 209.38,943.00 199.30,943.00 C177.07,938.33 154.83,938.33 132.60,943.00 C122.52,943.00 118.60,939.57 118.60,930.75 C118.60,921.93 122.52,918.50 132.60,918.50 Z" fill="#262626" opacity="1" filter="url(#b16)"/>
<path d="M235.40,917.70 C258.30,921.98 281.20,921.98 304.10,919.20 C310.58,919.20 313.10,921.72 313.10,928.20 C313.10,934.68 310.58,937.20 304.10,937.20 C281.20,935.85 258.30,935.85 235.40,938.10 C228.06,938.10 225.20,935.24 225.20,927.90 C225.20,920.56 228.06,917.70 235.40,917.70 Z" fill="#262626" opacity="1" filter="url(#b16)"/>
<ellipse cx="252.50" cy="922.30" rx="2.20" ry="1.40" fill="#d8d8d8" opacity="0.9" filter="url(#b5)"/>
<path d="M339.80,921.10 C361.30,924.45 382.80,924.45 404.30,921.00 C408.04,921.00 409.50,922.46 409.50,926.20 C409.50,929.94 408.04,931.40 404.30,931.40 C382.80,930.72 361.30,930.72 339.80,933.90 C335.19,933.90 333.40,932.11 333.40,927.50 C333.40,922.89 335.19,921.10 339.80,921.10 Z" fill="#262626" opacity="1" filter="url(#b15)"/>
<path d="M126.30,983.50 C150.63,992.00 174.97,992.00 199.30,986.90 C205.71,986.90 208.20,989.39 208.20,995.80 C208.20,1002.21 205.71,1004.70 199.30,1004.70 C174.97,1000.30 150.63,1000.30 126.30,1003.90 C118.96,1003.90 116.10,1001.04 116.10,993.70 C116.10,986.36 118.96,983.50 126.30,983.50 Z" fill="#262626" opacity="1" filter="url(#b16)"/>
<path d="M232.80,985.20 C255.57,992.82 278.33,992.82 301.10,986.70 C307.29,986.70 309.70,989.11 309.70,995.30 C309.70,1001.49 307.29,1003.90 301.10,1003.90 C278.33,1001.52 255.57,1001.52 232.80,1003.80 C226.10,1003.80 223.50,1001.20 223.50,994.50 C223.50,987.80 226.10,985.20 232.80,985.20 Z" fill="#262626" opacity="1" filter="url(#b16)"/>
<path d="M336.60,989.90 C358.50,994.90 380.40,994.90 402.30,990.30 C406.26,990.30 407.80,991.84 407.80,995.80 C407.80,999.76 406.26,1001.30 402.30,1001.30 C380.40,996.50 358.50,996.50 336.60,1001.30 C332.50,1001.30 330.90,999.70 330.90,995.60 C330.90,991.50 332.50,989.90 336.60,989.90 Z" fill="#262626" opacity="1" filter="url(#b15)"/>
<path d="M347.50,993.30 C362.50,993.97 377.50,993.97 392.50,993.30 C394.30,993.30 395.00,994.00 395.00,995.80 C395.00,997.60 394.30,998.30 392.50,998.30 C377.50,997.63 362.50,997.63 347.50,998.30 C345.70,998.30 345.00,997.60 345.00,995.80 C345.00,994.00 345.70,993.30 347.50,993.30 Z" fill="#555" opacity="0.6" filter="url(#b12)"/>
<path d="M121.10,1048.20 C149.00,1052.32 176.90,1052.32 204.80,1050.70 C209.70,1050.70 211.60,1052.60 211.60,1057.50 C211.60,1062.40 209.70,1064.30 204.80,1064.30 C176.90,1062.75 149.00,1062.75 121.10,1060.00 C116.85,1060.00 115.20,1058.35 115.20,1054.10 C115.20,1049.85 116.85,1048.20 121.10,1048.20 Z" fill="#262626" opacity="1" filter="url(#b16)"/>
<path d="M232.80,1050.80 C256.20,1053.85 279.60,1053.85 303.00,1052.50 C308.47,1052.50 310.60,1054.63 310.60,1060.10 C310.60,1065.57 308.47,1067.70 303.00,1067.70 C279.60,1067.98 256.20,1067.98 232.80,1066.00 C227.33,1066.00 225.20,1063.87 225.20,1058.40 C225.20,1052.93 227.33,1050.80 232.80,1050.80 Z" fill="#262626" opacity="1" filter="url(#b16)"/>
<path d="M333.00,1052.50 C356.93,1054.63 380.87,1054.63 404.80,1052.50 C409.98,1052.50 412.00,1054.52 412.00,1059.70 C412.00,1064.88 409.98,1066.90 404.80,1066.90 C380.87,1067.97 356.93,1067.97 333.00,1066.90 C327.82,1066.90 325.80,1064.88 325.80,1059.70 C325.80,1054.52 327.82,1052.50 333.00,1052.50 Z" fill="#262626" opacity="1" filter="url(#b16)"/>
<path d="M128.30,1121.80 C152.97,1124.27 177.63,1124.27 202.30,1123.00 C205.61,1123.00 206.90,1124.29 206.90,1127.60 C206.90,1130.91 205.61,1132.20 202.30,1132.20 C177.63,1132.40 152.97,1132.40 128.30,1131.00 C124.99,1131.00 123.70,1129.71 123.70,1126.40 C123.70,1123.09 124.99,1121.80 128.30,1121.80 Z" fill="#262626" opacity="1" filter="url(#b15)"/>
<path d="M233.30,1122.80 C254.93,1123.93 276.57,1123.93 298.20,1123.20 C301.66,1123.20 303.00,1124.54 303.00,1128.00 C303.00,1131.46 301.66,1132.80 298.20,1132.80 C276.57,1133.00 254.93,1133.00 233.30,1132.40 C229.84,1132.40 228.50,1131.06 228.50,1127.60 C228.50,1124.14 229.84,1122.80 233.30,1122.80 Z" fill="#262626" opacity="1" filter="url(#b15)"/>
<path d="M330.00,1121.80 C352.23,1123.32 374.47,1123.32 396.70,1119.10 C400.44,1119.10 401.90,1120.56 401.90,1124.30 C401.90,1128.04 400.44,1129.50 396.70,1129.50 C374.47,1131.38 352.23,1131.38 330.00,1131.80 C326.40,1131.80 325.00,1130.40 325.00,1126.80 C325.00,1123.20 326.40,1121.80 330.00,1121.80 Z" fill="#262626" opacity="1" filter="url(#b15)"/>
<text x="485.62" y="606.40" font-size="44.80" textLength="31.35" lengthAdjust="spacingAndGlyphs" fill="#000">E</text>
<line x1="547.60" y1="718.50" x2="547.60" y2="1152.00" stroke="#1e1e1e" stroke-width="1.6" stroke-linecap="butt"/>
<line x1="540.90" y1="1151.00" x2="547.60" y2="1151.00" stroke="#1e1e1e" stroke-width="1.6" stroke-linecap="butt"/>
<text x="538.10" y="1157.20" font-size="18.2" font-weight="bold" text-anchor="end" fill="#000">0.0</text>
<line x1="540.90" y1="1122.21" x2="547.60" y2="1122.21" stroke="#1e1e1e" stroke-width="1.6" stroke-linecap="butt"/>
<text x="538.10" y="1128.41" font-size="18.2" font-weight="bold" text-anchor="end" fill="#000">0.2</text>
<line x1="540.90" y1="1093.42" x2="547.60" y2="1093.42" stroke="#1e1e1e" stroke-width="1.6" stroke-linecap="butt"/>
<text x="538.10" y="1099.62" font-size="18.2" font-weight="bold" text-anchor="end" fill="#000">0.4</text>
<line x1="540.90" y1="1064.63" x2="547.60" y2="1064.63" stroke="#1e1e1e" stroke-width="1.6" stroke-linecap="butt"/>
<text x="538.10" y="1070.83" font-size="18.2" font-weight="bold" text-anchor="end" fill="#000">0.6</text>
<line x1="540.90" y1="1035.84" x2="547.60" y2="1035.84" stroke="#1e1e1e" stroke-width="1.6" stroke-linecap="butt"/>
<text x="538.10" y="1042.04" font-size="18.2" font-weight="bold" text-anchor="end" fill="#000">0.8</text>
<line x1="540.90" y1="1007.05" x2="547.60" y2="1007.05" stroke="#1e1e1e" stroke-width="1.6" stroke-linecap="butt"/>
<text x="538.10" y="1013.25" font-size="18.2" font-weight="bold" text-anchor="end" fill="#000">1.0</text>
<line x1="540.90" y1="978.26" x2="547.60" y2="978.26" stroke="#1e1e1e" stroke-width="1.6" stroke-linecap="butt"/>
<text x="538.10" y="984.46" font-size="18.2" font-weight="bold" text-anchor="end" fill="#000">1.2</text>
<line x1="540.90" y1="949.47" x2="547.60" y2="949.47" stroke="#1e1e1e" stroke-width="1.6" stroke-linecap="butt"/>
<text x="538.10" y="955.67" font-size="18.2" font-weight="bold" text-anchor="end" fill="#000">1.4</text>
<line x1="540.90" y1="920.68" x2="547.60" y2="920.68" stroke="#1e1e1e" stroke-width="1.6" stroke-linecap="butt"/>
<text x="538.10" y="926.88" font-size="18.2" font-weight="bold" text-anchor="end" fill="#000">1.6</text>
<line x1="540.90" y1="891.89" x2="547.60" y2="891.89" stroke="#1e1e1e" stroke-width="1.6" stroke-linecap="butt"/>
<text x="538.10" y="898.09" font-size="18.2" font-weight="bold" text-anchor="end" fill="#000">1.8</text>
<line x1="540.90" y1="863.10" x2="547.60" y2="863.10" stroke="#1e1e1e" stroke-width="1.6" stroke-linecap="butt"/>
<text x="538.10" y="869.30" font-size="18.2" font-weight="bold" text-anchor="end" fill="#000">2.0</text>
<line x1="540.90" y1="834.31" x2="547.60" y2="834.31" stroke="#1e1e1e" stroke-width="1.6" stroke-linecap="butt"/>
<text x="538.10" y="840.51" font-size="18.2" font-weight="bold" text-anchor="end" fill="#000">2.2</text>
<line x1="540.90" y1="805.52" x2="547.60" y2="805.52" stroke="#1e1e1e" stroke-width="1.6" stroke-linecap="butt"/>
<text x="538.10" y="811.72" font-size="18.2" font-weight="bold" text-anchor="end" fill="#000">2.4</text>
<line x1="540.90" y1="776.73" x2="547.60" y2="776.73" stroke="#1e1e1e" stroke-width="1.6" stroke-linecap="butt"/>
<text x="538.10" y="782.93" font-size="18.2" font-weight="bold" text-anchor="end" fill="#000">2.6</text>
<line x1="540.90" y1="747.94" x2="547.60" y2="747.94" stroke="#1e1e1e" stroke-width="1.6" stroke-linecap="butt"/>
<text x="538.10" y="754.14" font-size="18.2" font-weight="bold" text-anchor="end" fill="#000">2.8</text>
<line x1="540.90" y1="719.15" x2="547.60" y2="719.15" stroke="#1e1e1e" stroke-width="1.6" stroke-linecap="butt"/>
<text x="538.10" y="725.35" font-size="18.2" font-weight="bold" text-anchor="end" fill="#000">3.0</text>
<line x1="546.80" y1="1151.20" x2="1199.90" y2="1151.20" stroke="#1e1e1e" stroke-width="1.6" stroke-linecap="butt"/>
<line x1="655.70" y1="1151.00" x2="655.70" y2="1158.40" stroke="#1e1e1e" stroke-width="1.6" stroke-linecap="butt"/>
<line x1="873.40" y1="1151.00" x2="873.40" y2="1158.40" stroke="#1e1e1e" stroke-width="1.6" stroke-linecap="butt"/>
<line x1="1089.90" y1="1151.00" x2="1089.90" y2="1158.40" stroke="#1e1e1e" stroke-width="1.6" stroke-linecap="butt"/>
<text x="502.10" y="933.00" font-size="20" font-weight="bold" text-anchor="middle" transform="rotate(-90 502.10 933.00)" fill="#000">NRF2 or NQO1 /β -actin protein ratio</text>
<text x="662.10" y="1177.40" font-size="18.7" font-weight="bold" text-anchor="end" transform="rotate(-45 662.10 1177.40)" fill="#000">NRF2</text>
<text x="878.30" y="1177.40" font-size="18.7" font-weight="bold" text-anchor="end" transform="rotate(-45 878.30 1177.40)" fill="#000">NQO1</text>
<text x="1095.80" y="1177.40" font-size="18.7" font-weight="bold" text-anchor="end" transform="rotate(-45 1095.80 1177.40)" fill="#000">PIDD</text>
<rect x="562.80" y="798.90" width="61.80" height="352.30" fill="#fff" stroke="#1e1e1e" stroke-width="1.5" rx="0"/>
<rect x="624.60" y="837.50" width="62.70" height="313.70" fill="#000" stroke="none" stroke-width="1" rx="0"/>
<rect x="688.10" y="1012.50" width="62.20" height="138.70" fill="#fff" stroke="none" stroke-width="1" rx="0"/>
<path d="M688.00,1019.80H748.30M688.00,1024.84H748.30M688.00,1029.88H748.30M688.00,1034.92H748.30M688.00,1039.96H748.30M688.00,1045.00H748.30M688.00,1050.04H748.30M688.00,1055.08H748.30M688.00,1060.12H748.30M688.00,1065.16H748.30M688.00,1070.20H748.30M688.00,1075.24H748.30M688.00,1080.28H748.30M688.00,1085.32H748.30M688.00,1090.36H748.30M688.00,1095.40H748.30M688.00,1100.44H748.30M688.00,1105.48H748.30M688.00,1110.52H748.30M688.00,1115.56H748.30M688.00,1120.60H748.30M688.00,1125.64H748.30M688.00,1130.68H748.30M688.00,1135.72H748.30M688.00,1140.76H748.30M688.00,1145.80H748.30" stroke="#2a2a2a" stroke-width="1.1" fill="none"/>
<path d="M688.10,1151.2 V1014.10 H748.70 V1151.2" stroke="#000" stroke-width="3.2" fill="none" stroke-linejoin="miter"/>
<rect x="779.40" y="876.60" width="62.80" height="274.60" fill="#fff" stroke="#1e1e1e" stroke-width="1.5" rx="0"/>
<rect x="842.20" y="886.00" width="62.30" height="265.20" fill="#000" stroke="none" stroke-width="1" rx="0"/>
<rect x="905.30" y="1052.00" width="62.10" height="99.20" fill="#fff" stroke="none" stroke-width="1" rx="0"/>
<path d="M905.20,1059.30H965.40M905.20,1064.34H965.40M905.20,1069.38H965.40M905.20,1074.42H965.40M905.20,1079.46H965.40M905.20,1084.50H965.40M905.20,1089.54H965.40M905.20,1094.58H965.40M905.20,1099.62H965.40M905.20,1104.66H965.40M905.20,1109.70H965.40M905.20,1114.74H965.40M905.20,1119.78H965.40M905.20,1124.82H965.40M905.20,1129.86H965.40M905.20,1134.90H965.40M905.20,1139.94H965.40M905.20,1144.98H965.40M905.20,1150.02H965.40" stroke="#2a2a2a" stroke-width="1.1" fill="none"/>
<path d="M905.30,1151.2 V1053.60 H965.80 V1151.2" stroke="#000" stroke-width="3.2" fill="none" stroke-linejoin="miter"/>
<rect x="997.20" y="828.90" width="61.40" height="322.30" fill="#fff" stroke="#1e1e1e" stroke-width="1.5" rx="0"/>
<rect x="1058.60" y="787.60" width="63.60" height="363.60" fill="#000" stroke="none" stroke-width="1" rx="0"/>
<rect x="1123.00" y="855.40" width="61.70" height="295.80" fill="#fff" stroke="none" stroke-width="1" rx="0"/>
<path d="M1122.90,862.70H1182.70M1122.90,867.74H1182.70M1122.90,872.78H1182.70M1122.90,877.82H1182.70M1122.90,882.86H1182.70M1122.90,887.90H1182.70M1122.90,892.94H1182.70M1122.90,897.98H1182.70M1122.90,903.02H1182.70M1122.90,908.06H1182.70M1122.90,913.10H1182.70M1122.90,918.14H1182.70M1122.90,923.18H1182.70M1122.90,928.22H1182.70M1122.90,933.26H1182.70M1122.90,938.30H1182.70M1122.90,943.34H1182.70M1122.90,948.38H1182.70M1122.90,953.42H1182.70M1122.90,958.46H1182.70M1122.90,963.50H1182.70M1122.90,968.54H1182.70M1122.90,973.58H1182.70M1122.90,978.62H1182.70M1122.90,983.66H1182.70M1122.90,988.70H1182.70M1122.90,993.74H1182.70M1122.90,998.78H1182.70M1122.90,1003.82H1182.70M1122.90,1008.86H1182.70M1122.90,1013.90H1182.70M1122.90,1018.94H1182.70M1122.90,1023.98H1182.70M1122.90,1029.02H1182.70M1122.90,1034.06H1182.70M1122.90,1039.10H1182.70M1122.90,1044.14H1182.70M1122.90,1049.18H1182.70M1122.90,1054.22H1182.70M1122.90,1059.26H1182.70M1122.90,1064.30H1182.70M1122.90,1069.34H1182.70M1122.90,1074.38H1182.70M1122.90,1079.42H1182.70M1122.90,1084.46H1182.70M1122.90,1089.50H1182.70M1122.90,1094.54H1182.70M1122.90,1099.58H1182.70M1122.90,1104.62H1182.70M1122.90,1109.66H1182.70M1122.90,1114.70H1182.70M1122.90,1119.74H1182.70M1122.90,1124.78H1182.70M1122.90,1129.82H1182.70M1122.90,1134.86H1182.70M1122.90,1139.90H1182.70M1122.90,1144.94H1182.70M1122.90,1149.98H1182.70" stroke="#2a2a2a" stroke-width="1.1" fill="none"/>
<path d="M1123.00,1151.2 V857.00 H1183.10 V1151.2" stroke="#000" stroke-width="3.2" fill="none" stroke-linejoin="miter"/>
<line x1="594.30" y1="794.50" x2="594.30" y2="798.90" stroke="#1e1e1e" stroke-width="1.6" stroke-linecap="butt"/>
<line x1="579.00" y1="794.50" x2="609.60" y2="794.50" stroke="#1e1e1e" stroke-width="1.6" stroke-linecap="butt"/>
<line x1="656.10" y1="825.20" x2="656.10" y2="837.50" stroke="#1e1e1e" stroke-width="1.6" stroke-linecap="butt"/>
<line x1="640.70" y1="825.20" x2="671.50" y2="825.20" stroke="#1e1e1e" stroke-width="1.6" stroke-linecap="butt"/>
<line x1="718.20" y1="1006.00" x2="718.20" y2="1012.50" stroke="#000" stroke-width="1.6" stroke-linecap="butt"/>
<line x1="702.40" y1="1006.00" x2="734.00" y2="1006.00" stroke="#000" stroke-width="3.5" stroke-linecap="round"/>
<line x1="810.60" y1="866.40" x2="810.60" y2="876.60" stroke="#1e1e1e" stroke-width="1.6" stroke-linecap="butt"/>
<line x1="794.60" y1="866.40" x2="826.60" y2="866.40" stroke="#1e1e1e" stroke-width="1.6" stroke-linecap="butt"/>
<line x1="873.00" y1="870.90" x2="873.00" y2="886.00" stroke="#1e1e1e" stroke-width="1.6" stroke-linecap="butt"/>
<line x1="857.60" y1="870.90" x2="888.40" y2="870.90" stroke="#1e1e1e" stroke-width="1.6" stroke-linecap="butt"/>
<line x1="935.30" y1="1048.10" x2="935.30" y2="1052.00" stroke="#000" stroke-width="1.6" stroke-linecap="butt"/>
<line x1="919.50" y1="1048.10" x2="951.10" y2="1048.10" stroke="#000" stroke-width="3.2" stroke-linecap="round"/>
<line x1="1028.00" y1="828.60" x2="1028.00" y2="828.90" stroke="#1e1e1e" stroke-width="1.6" stroke-linecap="butt"/>
<line x1="1013.00" y1="828.60" x2="1043.00" y2="828.60" stroke="#1e1e1e" stroke-width="1.6" stroke-linecap="butt"/>
<line x1="1090.60" y1="777.10" x2="1090.60" y2="787.60" stroke="#1e1e1e" stroke-width="1.6" stroke-linecap="butt"/>
<line x1="1076.00" y1="777.10" x2="1105.20" y2="777.10" stroke="#1e1e1e" stroke-width="1.6" stroke-linecap="butt"/>
<line x1="1152.00" y1="846.90" x2="1152.00" y2="855.40" stroke="#000" stroke-width="1.6" stroke-linecap="butt"/>
<line x1="1136.00" y1="846.90" x2="1168.00" y2="846.90" stroke="#000" stroke-width="3.5" stroke-linecap="round"/>
<path d="M592.1,790.2 V771.6 H656.5 V813.9" stroke="#5e5e5e" stroke-width="1.7" fill="none" stroke-linejoin="round"/>
<path d="M592.1,771.6 V734.4 H717.9 V996.8" stroke="#5e5e5e" stroke-width="1.7" fill="none" stroke-linejoin="round"/>
<path d="M810.7,864.6 V813.9 H873.4 V862.0" stroke="#5e5e5e" stroke-width="1.7" fill="none" stroke-linejoin="round"/>
<path d="M810.7,813.9 V771.5 H936.4 V1040.6" stroke="#5e5e5e" stroke-width="1.7" fill="none" stroke-linejoin="round"/>
<path d="M1029.1,824.4 V755.7 H1089.1 V770.7" stroke="#5e5e5e" stroke-width="1.7" fill="none" stroke-linejoin="round"/>
<path d="M1029.1,755.7 V734.2 H1152.2 V843.9" stroke="#5e5e5e" stroke-width="1.7" fill="none" stroke-linejoin="round"/>
<text x="615.13" y="763.80" font-size="21.21" textLength="22.95" lengthAdjust="spacingAndGlyphs" fill="#000">ns</text>
<text x="832.13" y="808.00" font-size="22.14" textLength="23.06" lengthAdjust="spacingAndGlyphs" fill="#000">ns</text>
<text x="1048.10" y="750.70" font-size="21.40" textLength="23.40" lengthAdjust="spacingAndGlyphs" fill="#000">ns</text>
<text x="1077.30" y="724.10" font-size="22.14" textLength="23.40" lengthAdjust="spacingAndGlyphs" fill="#000">ns</text>
<text x="648.86" y="730.10" font-size="17.45" font-weight="bold" letter-spacing="1.49" stroke="#000" stroke-width="0.5">**</text>
<text x="865.96" y="769.14" font-size="16.64" font-weight="bold" letter-spacing="2.11" stroke="#000" stroke-width="0.5">**</text>
<rect x="798.00" y="628.80" width="26.00" height="13.20" fill="#fff" stroke="#333" stroke-width="1.3" rx="1.5"/>
<rect x="797.40" y="657.80" width="27.10" height="14.10" fill="#000" stroke="none" stroke-width="1" rx="1.5"/>
<rect x="798.60" y="687.20" width="25.50" height="13.20" fill="#fff" stroke="#000" stroke-width="3.8" rx="1.8"/>
<line x1="800.50" y1="692.30" x2="822.50" y2="692.30" stroke="#000" stroke-width="1.3" stroke-linecap="butt"/>
<line x1="800.50" y1="698.00" x2="822.50" y2="698.00" stroke="#777" stroke-width="2.0" stroke-linecap="butt"/>
<text x="837.29" y="642.00" font-size="20.93" textLength="28.18" lengthAdjust="spacingAndGlyphs" fill="#000">NC</text>
<text x="838.38" y="671.30" font-size="20.69" textLength="70.85" lengthAdjust="spacingAndGlyphs" fill="#000">shRNA1</text>
<text x="838.37" y="700.60" font-size="19.72" textLength="72.43" lengthAdjust="spacingAndGlyphs" fill="#000">shRNA2</text>
<text x="1229.69" y="606.50" font-size="45.24" textLength="28.95" lengthAdjust="spacingAndGlyphs" fill="#000">F</text>
<line x1="1308.00" y1="790.50" x2="1308.00" y2="1126.50" stroke="#000" stroke-width="3.2" stroke-linecap="butt"/>
<line x1="1306.40" y1="1124.90" x2="1808.40" y2="1124.90" stroke="#000" stroke-width="3.2" stroke-linecap="butt"/>
<line x1="1298.50" y1="1124.90" x2="1308.00" y2="1124.90" stroke="#000" stroke-width="3.2" stroke-linecap="butt"/>
<text x="1296.40" y="1133.80" font-size="25.5" font-weight="bold" text-anchor="end" fill="#000">40</text>
<line x1="1298.50" y1="1069.40" x2="1308.00" y2="1069.40" stroke="#000" stroke-width="3.2" stroke-linecap="butt"/>
<text x="1296.40" y="1078.30" font-size="25.5" font-weight="bold" text-anchor="end" fill="#000">50</text>
<line x1="1298.50" y1="1013.90" x2="1308.00" y2="1013.90" stroke="#000" stroke-width="3.2" stroke-linecap="butt"/>
<text x="1296.40" y="1022.80" font-size="25.5" font-weight="bold" text-anchor="end" fill="#000">60</text>
<line x1="1298.50" y1="958.40" x2="1308.00" y2="958.40" stroke="#000" stroke-width="3.2" stroke-linecap="butt"/>
<text x="1296.40" y="967.30" font-size="25.5" font-weight="bold" text-anchor="end" fill="#000">70</text>
<line x1="1298.50" y1="902.90" x2="1308.00" y2="902.90" stroke="#000" stroke-width="3.2" stroke-linecap="butt"/>
<text x="1296.40" y="911.80" font-size="25.5" font-weight="bold" text-anchor="end" fill="#000">80</text>
<line x1="1298.50" y1="847.40" x2="1308.00" y2="847.40" stroke="#000" stroke-width="3.2" stroke-linecap="butt"/>
<text x="1296.40" y="856.30" font-size="25.5" font-weight="bold" text-anchor="end" fill="#000">90</text>
<line x1="1298.50" y1="791.90" x2="1308.00" y2="791.90" stroke="#000" stroke-width="3.2" stroke-linecap="butt"/>
<text x="1296.40" y="800.80" font-size="25.5" font-weight="bold" text-anchor="end" fill="#000">100</text>
<line x1="1307.90" y1="1124.90" x2="1307.90" y2="1133.50" stroke="#000" stroke-width="3.2" stroke-linecap="butt"/>
<text x="1308.50" y="1160.70" font-size="25.5" font-weight="bold" text-anchor="middle" fill="#000">-5</text>
<line x1="1379.40" y1="1124.90" x2="1379.40" y2="1133.50" stroke="#000" stroke-width="3.2" stroke-linecap="butt"/>
<text x="1380.00" y="1160.70" font-size="25.5" font-weight="bold" text-anchor="middle" fill="#000">0</text>
<line x1="1450.90" y1="1124.90" x2="1450.90" y2="1133.50" stroke="#000" stroke-width="3.2" stroke-linecap="butt"/>
<text x="1451.50" y="1160.70" font-size="25.5" font-weight="bold" text-anchor="middle" fill="#000">5</text>
<line x1="1522.40" y1="1124.90" x2="1522.40" y2="1133.50" stroke="#000" stroke-width="3.2" stroke-linecap="butt"/>
<text x="1523.00" y="1160.70" font-size="25.5" font-weight="bold" text-anchor="middle" fill="#000">10</text>
<line x1="1593.90" y1="1124.90" x2="1593.90" y2="1133.50" stroke="#000" stroke-width="3.2" stroke-linecap="butt"/>
<text x="1594.50" y="1160.70" font-size="25.5" font-weight="bold" text-anchor="middle" fill="#000">15</text>
<line x1="1665.40" y1="1124.90" x2="1665.40" y2="1133.50" stroke="#000" stroke-width="3.2" stroke-linecap="butt"/>
<text x="1666.00" y="1160.70" font-size="25.5" font-weight="bold" text-anchor="middle" fill="#000">20</text>
<line x1="1736.90" y1="1124.90" x2="1736.90" y2="1133.50" stroke="#000" stroke-width="3.2" stroke-linecap="butt"/>
<text x="1737.50" y="1160.70" font-size="25.5" font-weight="bold" text-anchor="middle" fill="#000">25</text>
<line x1="1808.40" y1="1124.90" x2="1808.40" y2="1133.50" stroke="#000" stroke-width="3.2" stroke-linecap="butt"/>
<text x="1809.00" y="1160.70" font-size="25.5" font-weight="bold" text-anchor="middle" fill="#000">30</text>
<text x="1244.10" y="958.00" font-size="27" font-weight="bold" text-anchor="middle" transform="rotate(-90 1244.10 958.00)" fill="#000">Cell viability (%)</text>
<text x="1465.31" y="1196.30" font-size="28.00" font-weight="bold" textLength="187.11" lengthAdjust="spacingAndGlyphs" fill="#000">Cisplatin μm/L</text>
<polyline points="1379.40,791.90 1450.90,869.50 1522.40,934.20 1593.90,982.60 1736.90,1060.60" fill="none" stroke="#000" stroke-width="3"/>
<polyline points="1379.40,791.90 1450.90,942.00 1522.40,1036.40 1593.90,1079.30 1736.90,1115.20" fill="none" stroke="#000" stroke-width="3"/>
<line x1="1450.90" y1="856.20" x2="1450.90" y2="882.70" stroke="#000" stroke-width="4.3" stroke-linecap="butt"/>
<line x1="1444.30" y1="856.20" x2="1457.50" y2="856.20" stroke="#000" stroke-width="4.2" stroke-linecap="round"/>
<line x1="1444.30" y1="882.70" x2="1457.50" y2="882.70" stroke="#000" stroke-width="4.2" stroke-linecap="round"/>
<line x1="1450.90" y1="930.00" x2="1450.90" y2="953.70" stroke="#000" stroke-width="4.3" stroke-linecap="butt"/>
<line x1="1444.30" y1="930.00" x2="1457.50" y2="930.00" stroke="#000" stroke-width="4.2" stroke-linecap="round"/>
<line x1="1444.30" y1="953.70" x2="1457.50" y2="953.70" stroke="#000" stroke-width="4.2" stroke-linecap="round"/>
<line x1="1522.40" y1="912.40" x2="1522.40" y2="955.70" stroke="#000" stroke-width="4.3" stroke-linecap="butt"/>
<line x1="1515.80" y1="912.40" x2="1529.00" y2="912.40" stroke="#000" stroke-width="4.2" stroke-linecap="round"/>
<line x1="1515.80" y1="955.70" x2="1529.00" y2="955.70" stroke="#000" stroke-width="4.2" stroke-linecap="round"/>
<line x1="1522.40" y1="1018.90" x2="1522.40" y2="1052.80" stroke="#000" stroke-width="4.3" stroke-linecap="butt"/>
<line x1="1515.80" y1="1018.90" x2="1529.00" y2="1018.90" stroke="#000" stroke-width="4.2" stroke-linecap="round"/>
<line x1="1515.80" y1="1052.80" x2="1529.00" y2="1052.80" stroke="#000" stroke-width="4.2" stroke-linecap="round"/>
<line x1="1593.90" y1="969.30" x2="1593.90" y2="995.50" stroke="#000" stroke-width="4.3" stroke-linecap="butt"/>
<line x1="1587.30" y1="969.30" x2="1600.50" y2="969.30" stroke="#000" stroke-width="4.2" stroke-linecap="round"/>
<line x1="1587.30" y1="995.50" x2="1600.50" y2="995.50" stroke="#000" stroke-width="4.2" stroke-linecap="round"/>
<line x1="1593.90" y1="1073.50" x2="1593.90" y2="1086.00" stroke="#000" stroke-width="4.3" stroke-linecap="butt"/>
<line x1="1587.30" y1="1073.50" x2="1600.50" y2="1073.50" stroke="#000" stroke-width="4.2" stroke-linecap="round"/>
<line x1="1587.30" y1="1086.00" x2="1600.50" y2="1086.00" stroke="#000" stroke-width="4.2" stroke-linecap="round"/>
<line x1="1736.90" y1="1108.60" x2="1736.90" y2="1120.30" stroke="#000" stroke-width="4.3" stroke-linecap="butt"/>
<line x1="1730.30" y1="1108.60" x2="1743.50" y2="1108.60" stroke="#000" stroke-width="4.2" stroke-linecap="round"/>
<line x1="1730.30" y1="1120.30" x2="1743.50" y2="1120.30" stroke="#000" stroke-width="4.2" stroke-linecap="round"/>
<circle cx="1379.40" cy="791.90" r="7.1" fill="none" stroke="#000" stroke-width="3.2"/>
<circle cx="1450.90" cy="942.00" r="7.1" fill="none" stroke="#000" stroke-width="3.2"/>
<circle cx="1522.40" cy="1036.40" r="7.1" fill="none" stroke="#000" stroke-width="3.2"/>
<circle cx="1593.90" cy="1079.30" r="7.1" fill="none" stroke="#000" stroke-width="3.2"/>
<circle cx="1736.90" cy="1115.20" r="7.1" fill="none" stroke="#000" stroke-width="3.2"/>
<circle cx="1379.40" cy="791.90" r="8.6" fill="#000"/>
<circle cx="1450.90" cy="869.50" r="6.9" fill="#000"/>
<circle cx="1522.40" cy="934.20" r="6.9" fill="#000"/>
<circle cx="1593.90" cy="982.60" r="6.9" fill="#000"/>
<circle cx="1736.90" cy="1060.60" r="6.9" fill="#000"/>
<text x="1368.46" y="776.80" font-size="20.28" textLength="22.51" lengthAdjust="spacingAndGlyphs" fill="#000">ns</text>
<text x="1442.86" y="854.23" font-size="16.91" font-weight="bold" letter-spacing="1.81" stroke="#000" stroke-width="0.5">**</text>
<text x="1511.36" y="909.26" font-size="16.38" font-weight="bold" letter-spacing="1.72" stroke="#000" stroke-width="0.5">***</text>
<text x="1581.16" y="965.30" font-size="17.45" font-weight="bold" letter-spacing="1.25" stroke="#000" stroke-width="0.5">***</text>
<text x="1732.86" y="1052.33" font-size="16.91" font-weight="bold" letter-spacing="0.00" stroke="#000" stroke-width="0.5">*</text>
<line x1="1530.80" y1="789.50" x2="1567.80" y2="789.50" stroke="#000" stroke-width="4" stroke-linecap="butt"/>
<circle cx="1549.5" cy="789.5" r="6.9" fill="#000"/>
<text x="1586.50" y="798.30" font-size="28.10" textLength="245.33" lengthAdjust="spacingAndGlyphs" fill="#000">H1299-LV-PIDD NC</text>
<line x1="1531.80" y1="834.30" x2="1568.20" y2="834.30" stroke="#000" stroke-width="4" stroke-linecap="butt"/>
<circle cx="1550.5" cy="834.3" r="7.1" fill="none" stroke="#000" stroke-width="3.4"/>
<line x1="1543.50" y1="834.30" x2="1557.50" y2="834.30" stroke="#000" stroke-width="2.5" stroke-linecap="butt"/>
<text x="1587.53" y="843.60" font-size="27.17" textLength="303.48" lengthAdjust="spacingAndGlyphs" fill="#000">H1299-LV-PIDD shNRF2</text>
</svg></body></html>
